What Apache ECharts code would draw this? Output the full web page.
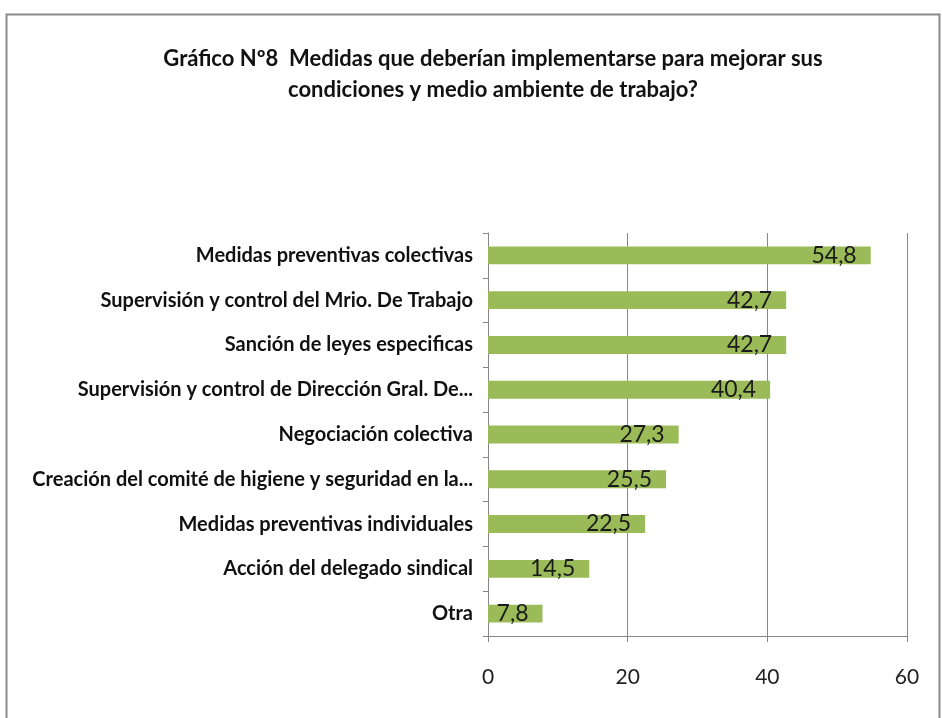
<!DOCTYPE html>
<html><head><meta charset="utf-8">
<script src="https://cdn.jsdelivr.net/npm/echarts@6/dist/echarts.min.js"></script>
<style>html,body{margin:0;padding:0;background:#fff}#c{width:942px;height:718px}</style>
</head><body><div id="c"></div>
<script>
const categories = [
  "Medidas preventivas colectivas",
  "Supervisión y control del Mrio. De Trabajo",
  "Sanción de leyes especificas",
  "Supervisión y control de Dirección Gral. De...",
  "Negociación colectiva",
  "Creación del comité de higiene y seguridad en la...",
  "Medidas preventivas individuales",
  "Acción del delegado sindical",
  "Otra"
];
const values = [54.8, 42.7, 42.7, 40.4, 27.3, 25.5, 22.5, 14.5, 7.8];
const titleLines = ["Gráfico Nº8  Medidas que deberían implementarse para mejorar sus", "condiciones y medio ambiente de trabajo?"];
const xTicks = [0, 20, 40, 60];

const font = "Lato, 'Open Sans', sans-serif";
const chart = echarts.init(document.getElementById('c'), null, {renderer: 'canvas'});
chart.setOption({
  animation: false,
  backgroundColor: '#fff',
  title: {
    text: titleLines.join('\n'),
    left: 488, textAlign: 'center', top: 38,
    textStyle: {fontFamily: font, fontSize: 22, fontWeight: 'bold', color: '#111', lineHeight: 31}
  },
  graphic: [{
    type: 'rect', left: 4, top: 12, shape: {width: 933, height: 720},
    style: {fill: 'none', stroke: '#8a8a8a', lineWidth: 2}, silent: true
  }],
  grid: {left: 488, right: 35, top: 233, bottom: 82},
  xAxis: {
    type: 'value', min: xTicks[0], max: xTicks[xTicks.length - 1], interval: 20,
    axisLine: {show: true, lineStyle: {color: '#868686'}},
    axisTick: {show: true, length: 6, lineStyle: {color: '#868686'}},
    splitLine: {show: true, lineStyle: {color: '#868686'}},
    axisLabel: {fontFamily: font, fontSize: 21, color: '#222', margin: 31}
  },
  yAxis: {
    type: 'category', data: categories.slice().reverse(),
    axisLine: {show: true, lineStyle: {color: '#868686'}},
    axisTick: {show: true, length: 5, lineStyle: {color: '#868686'}},
    axisLabel: {fontFamily: font, fontSize: 20, fontWeight: 'bold', color: '#111', margin: 15}
  },
  series: [{
    type: 'bar', data: values.slice().reverse(), barCategoryGap: '60%',
    itemStyle: {color: '#9BBB59'},
    label: {
      show: true, position: 'insideRight', distance: 14,
      fontFamily: font, fontSize: 23, color: '#1a1a1a',
      formatter: p => String(p.value).replace('.', ',')
    }
  }]
});
</script></body></html>
